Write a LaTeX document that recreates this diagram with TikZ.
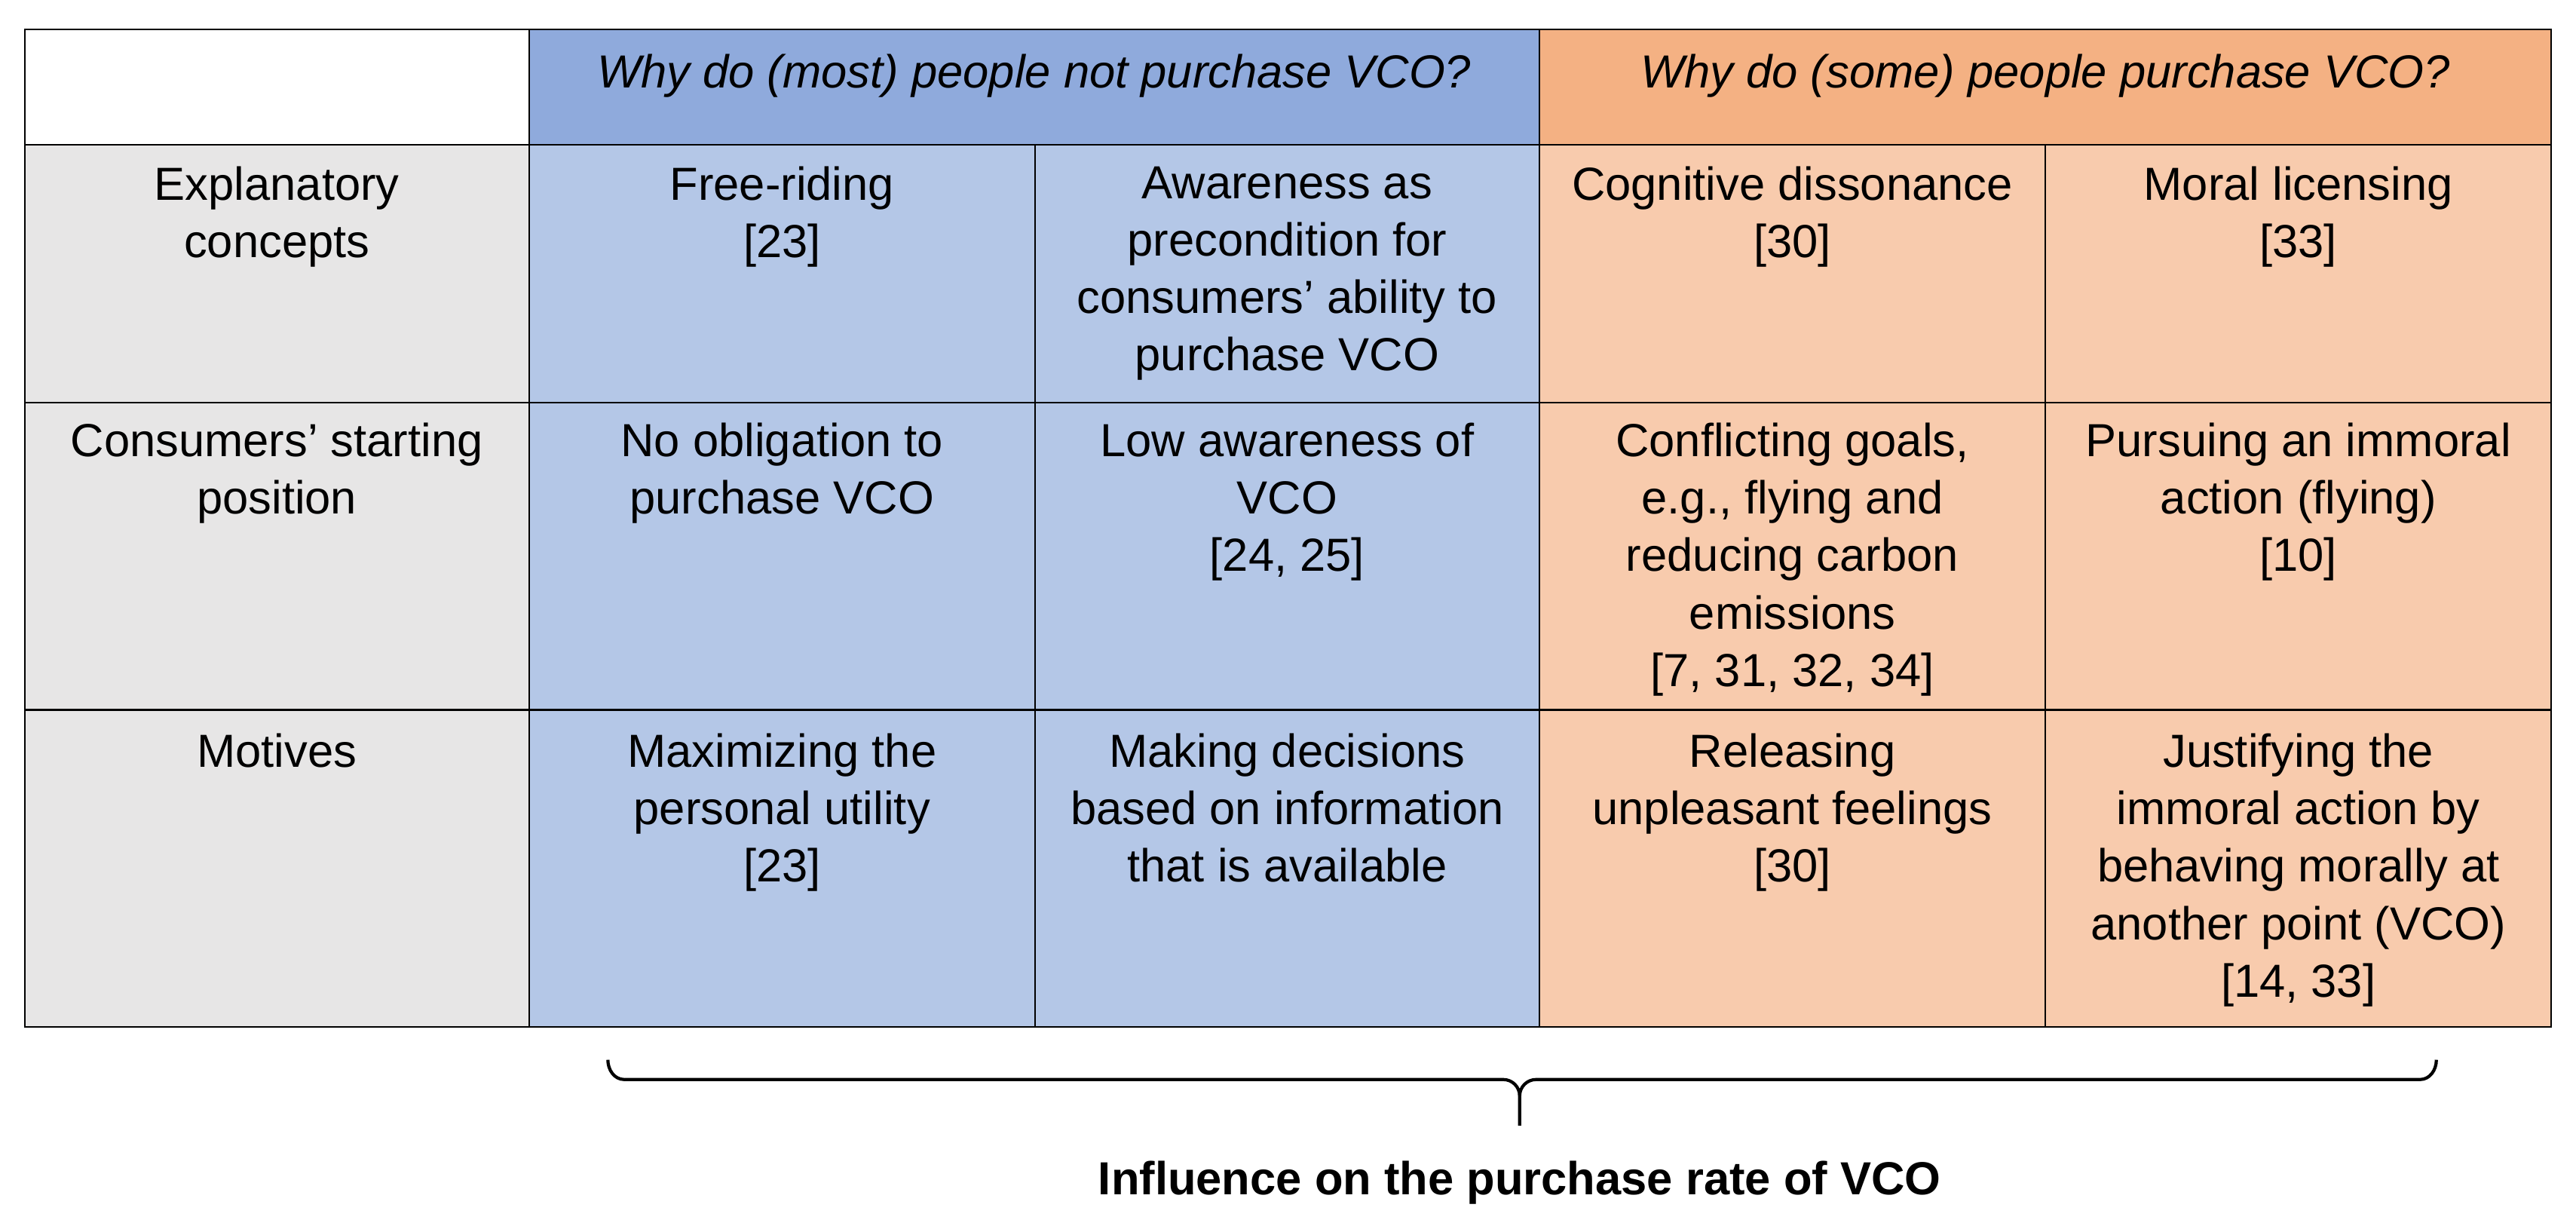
\documentclass[tikz,border=0pt]{standalone}
\usepackage{fontspec}
\setmainfont{Liberation Sans}
\begin{document}
\begin{tikzpicture}[x=0.02179cm,y=-0.02179cm,
  cell/.style={anchor=north,align=center,font=\fontsize{17.5}{21.7}\selectfont,inner sep=0pt},
  head/.style={anchor=center,align=center,font=\fontsize{17.5}{21.7}\selectfont\itshape,inner sep=0pt}]
\useasboundingbox (0,0) rectangle (1568,749.4);
\definecolor{hb}{HTML}{8FAADC}\definecolor{cb}{HTML}{B4C7E7}
\definecolor{ho}{HTML}{F4B183}\definecolor{co}{HTML}{F8CBAD}
\definecolor{gr}{HTML}{E7E6E6}
\fill[gr] (15,88) rectangle (322,625);
\fill[hb] (322,18) rectangle (937,88);
\fill[ho] (937,18) rectangle (1553,88);
\fill[cb] (322,88) rectangle (937,625);
\fill[co] (937,88) rectangle (1553,625);
\draw[line width=0.6pt] (15,18) rectangle (1553,625);
\foreach \yy in {88,245,432} \draw[line width=0.6pt] (15,\yy) -- (1553,\yy);
\draw[line width=0.6pt] (322,18) -- (322,625);
\draw[line width=0.6pt] (937,18) -- (937,625);
\draw[line width=0.6pt] (630,88) -- (630,625);
\draw[line width=0.6pt] (1245,88) -- (1245,625);
\node[head] (h1) at (629.5,46) {Why do (most) people not purchase VCO?};
\node[head] (h2) at (1245,46) {Why do (some) people purchase VCO?};
\node[cell] (r1) at (168.5,101) {Explanatory\\concepts};
\node[cell] (r2) at (168.5,257) {Consumers' starting\\position};
\node[cell] (r3) at (168.5,446) {Motives};
\node[cell] (a1) at (476,101) {Free-riding\\{[23]}};
\node[cell] (b1) at (783.5,101) {Awareness as\\precondition for\\consumers' ability to\\purchase VCO};
\node[cell] (c1) at (1091,101) {Cognitive dissonance\\{[30]}};
\node[cell] (d1) at (1399,101) {Moral licensing\\{[33]}};
\node[cell] (a2) at (476,257) {No obligation to\\purchase VCO};
\node[cell] (b2) at (783.5,257) {Low awareness of\\VCO\\{[24, 25]}};
\node[cell] (c2) at (1091,257) {Conflicting goals,\\e.g., flying and\\reducing carbon\\emissions\\{[7, 31, 32, 34]}};
\node[cell] (d2) at (1399,257) {Pursuing an immoral\\action (flying)\\{[10]}};
\node[cell] (a3) at (476,446) {Maximizing the\\personal utility\\{[23]}};
\node[cell] (b3) at (783.5,446) {Making decisions\\based on information\\that is available};
\node[cell] (c3) at (1091,446) {Releasing\\unpleasant feelings\\{[30]}};
\node[cell] (d3) at (1399,446) {Justifying the\\immoral action by\\behaving morally at\\another point (VCO)\\{[14, 33]}};
\draw[line width=1.2pt] (370,645) to[out=-90,in=180] (380,657) -- (915,657) to[out=0,in=90] (925,667) -- (925,685);
\draw[line width=1.2pt] (1483,645) to[out=-90,in=0] (1473,657) -- (935,657) to[out=180,in=90] (925,667);
\node[font=\fontsize{17.5}{21.7}\selectfont\bfseries] (t) at (925,720) {Influence on the purchase rate of VCO};
\end{tikzpicture}
\end{document}
